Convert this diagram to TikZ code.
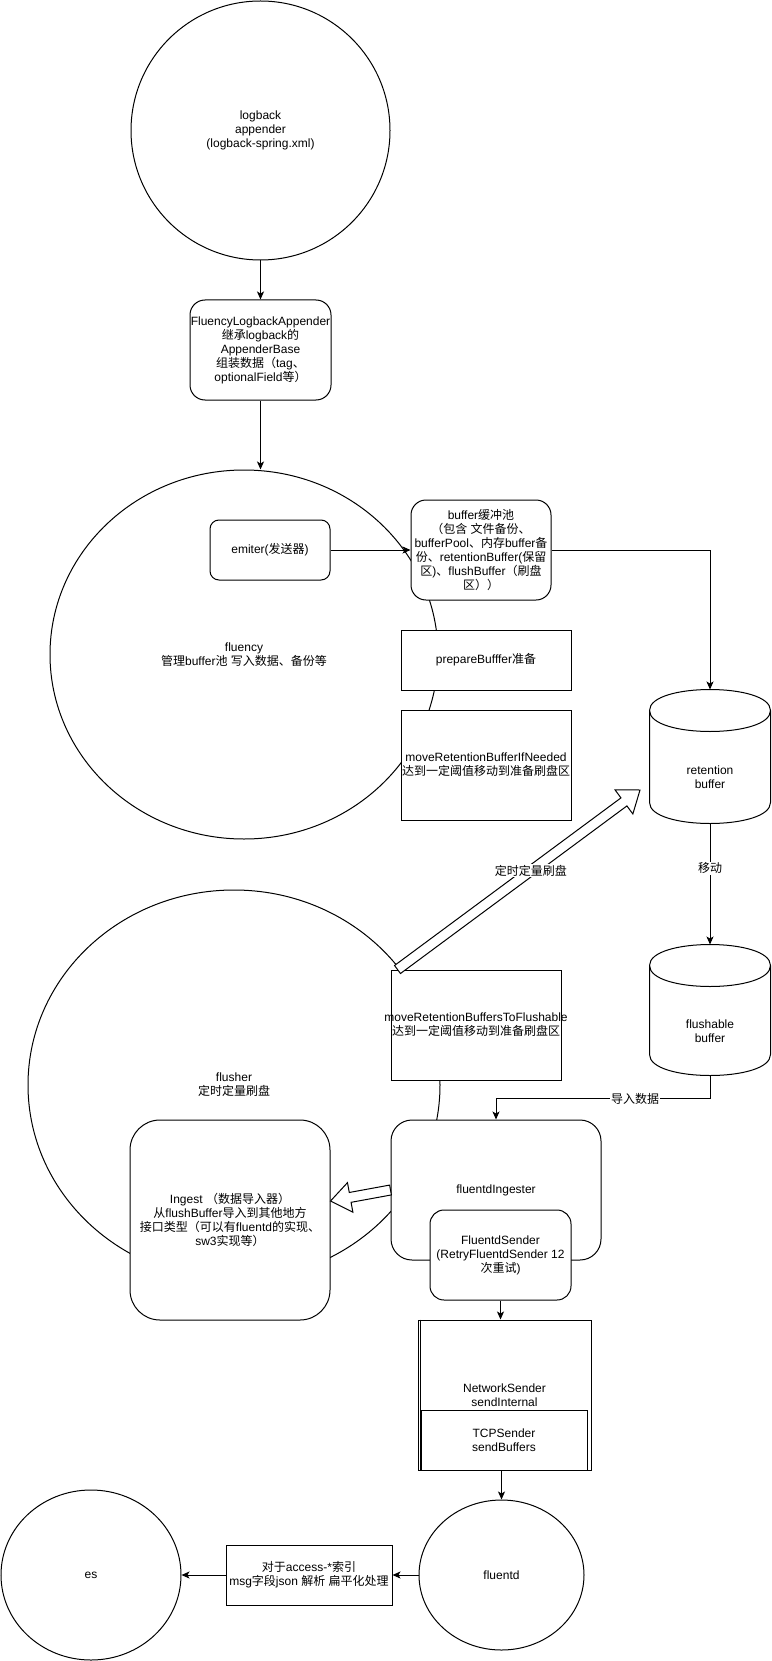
\documentclass[tikz,border=0pt]{standalone}
\usepackage{fontspec}
\setmainfont{Liberation Sans}
\newfontfamily\enfont{Liberation Sans}
\newfontfamily\zhfont{Noto Sans CJK SC}
% switch to the CJK font for Chinese characters
\XeTeXinterchartokenstate=1
\newXeTeXintercharclass\zhclass
\newcount\zhc
\zhc="3000 \loop \XeTeXcharclass\zhc=\zhclass \advance\zhc by 1 \ifnum\zhc<"3040 \repeat
\zhc="4E00 \loop \XeTeXcharclass\zhc=\zhclass \advance\zhc by 1 \ifnum\zhc<"A000 \repeat
\zhc="FF00 \loop \XeTeXcharclass\zhc=\zhclass \advance\zhc by 1 \ifnum\zhc<"FFF0 \repeat
\XeTeXinterchartoks 0 \zhclass = {\zhfont}
\XeTeXinterchartoks 4095 \zhclass = {\zhfont}
\XeTeXinterchartoks \zhclass 0 = {\enfont}
\XeTeXinterchartoks \zhclass 4095 = {\enfont}
\usetikzlibrary{shapes.geometric,arrows.meta,calc}

\tikzset{
  blk/.style={draw, fill=white, align=center, inner sep=0pt},
  rblk/.style={blk, rounded corners=#1},
  oval/.style={draw, ellipse, align=center, inner sep=0pt},
  cyl/.style={align=center, inner sep=0pt, minimum width=120pt},
  line/.style={-{Stealth[length=8pt, width=7pt, inset=2pt]}},
  lbl/.style={fill=white, inner sep=1pt}
}

% cylinder outline round a named node
\newcommand{\drawcyl}[1]{%
  \draw ([yshift=-21pt]#1.north west) -- ([yshift=21pt]#1.south west)
    .. controls ([yshift=-7pt]#1.south west) and ([yshift=-7pt]#1.south east) .. ([yshift=21pt]#1.south east)
    -- ([yshift=-21pt]#1.north east)
    .. controls ([yshift=7pt]#1.north east) and ([yshift=7pt]#1.north west) .. cycle;
  \draw ([yshift=-21pt]#1.north west) .. controls ([yshift=-49pt]#1.north west) and ([yshift=-49pt]#1.north east) .. ([yshift=-21pt]#1.north east);
}
% hollow (flex) arrow from #1 to #2
\newcommand{\hollowarrow}[2]{%
  \coordinate (ha) at ($(#2)!20pt!(#1)$);
  \draw[fill=white] ($(#1)!5pt!90:(#2)$) -- ($(ha)!5pt!90:(#2)$) -- ($(ha)!15pt!90:(#2)$)
    -- (#2) -- ($(ha)!15pt!-90:(#2)$) -- ($(ha)!5pt!-90:(#2)$) -- ($(#1)!5pt!-90:(#2)$) -- cycle;
}

\begin{document}
\begin{tikzpicture}[x=1pt, y=-1pt, line width=1pt, font=\fontsize{12}{14}\selectfont]
  \useasboundingbox (0,0) rectangle (771,1661);

  % the big circles
  \node[oval, minimum width=259pt, minimum height=259pt] (logback) at (260.5,130.5) {logback\\appender\\(logback-spring.xml)};
  \node[oval, minimum width=388pt, minimum height=369pt] (fluency) at (244,654.5) {fluency\\管理buffer池 写入数据、备份等};
  \node[oval, minimum width=412pt, minimum height=390pt] (flusher) at (234,1085) {flusher\\定时定量刷盘};
  \node[oval, minimum width=165pt, minimum height=150pt] (fluentd) at (501.5,1575) {fluentd};
  \node[oval, minimum width=180pt, minimum height=170pt] (es) at (91,1575) {es};

  % boxes
  \node[rblk=15pt, minimum width=141pt, minimum height=100pt] (appender) at (260.5,350) {FluencyLogbackAppender\\继承logback的\\AppenderBase\\组装数据（tag、\\optionalField等）};
  \node[rblk=9pt, minimum width=120pt, minimum height=60pt] (emiter) at (270,550) {emiter(发送器)};
  \node[rblk=15pt, minimum width=140pt, minimum height=100pt] (pool) at (481,550) {buffer缓冲池\\（包含 文件备份、\\bufferPool、内存buffer备\\份、retentionBuffer(保留\\区)、flushBuffer（刷盘\\区））};
  \node[blk, minimum width=170pt, minimum height=60pt] (prepare) at (486,660) {prepareBufffer准备};
  \node[blk, minimum width=170pt, minimum height=110pt] (moveif) at (486,765) {moveRetentionBufferIfNeeded\\达到一定阈值移动到准备刷盘区};
  \node[blk, minimum width=170pt, minimum height=110pt] (moveflush) at (476,1025) {\makebox[168pt]{moveRetentionBuffersToFlushable}\\达到一定阈值移动到准备刷盘区};
  \node[rblk=21pt, minimum width=210pt, minimum height=140pt] (ingester) at (496,1190) {fluentdIngester};
  \node[rblk=30pt, minimum width=200pt, minimum height=200pt] (ingest) at (230,1220) {Ingest （数据导入器）\\从flushBuffer导入到其他地方\\接口类型（可以有fluentd的实现、\\sw3实现等）};
  \node[rblk=14pt, minimum width=141pt, minimum height=90pt] (sender) at (500.5,1255) {FluentdSender\\(RetryFluentdSender 12\\次重试)};
  \node[blk, minimum width=173pt, minimum height=150pt] (netsend) at (504.5,1395) {NetworkSender\\sendInternal};
  \draw ([xshift=3pt]netsend.north west) -- ([xshift=3pt]netsend.south west);
  \node[blk, minimum width=166pt, minimum height=60pt] (tcpsend) at (504,1440) {TCPSender\\sendBuffers};
  \node[blk, minimum width=166pt, minimum height=60pt] (jsonfix) at (309,1575) {对于access-*索引\\msg字段json 解析 扁平化处理};

  % buffers
  \node[cyl, minimum height=133pt, label={[align=center, yshift=-21pt]center:{retention\\buffer}}] (retbuf) at (710,756.5) {};
  \node[cyl, minimum height=130pt, label={[align=center, yshift=-21pt]center:{flushable\\buffer}}] (flushbuf) at (710,1010) {};
  \drawcyl{retbuf}
  \drawcyl{flushbuf}

  % connectors
  \draw[line] (logback) -- (appender);
  \draw[line] (appender.south) -- (appender.south |- fluency.north);
  \draw[line] (emiter) -- (pool);
  \draw[line] (pool.east) -| (retbuf.north);
  \draw[line] (retbuf.south) -- node[lbl, pos=0.37] {移动} (flushbuf.north);
  \draw[line] (flushbuf.south) -- ++(0,23) -| node[lbl, pos=0.175] {导入数据} (ingester.north);
  \draw[line] (sender.south) -- (sender.south |- netsend.north);
  \draw[line] (fluentd.north |- netsend.south) -- (fluentd.north);
  \draw[line] (fluentd) -- (jsonfix);
  \draw[line] (jsonfix) -- (es);

  % hollow arrows
  \coordinate (fdtail) at ([xshift=7pt]moveflush.north west);
  \coordinate (fdtip) at (640,790);
  \hollowarrow{fdtail}{fdtip}
  \node[lbl] (fdlabel) at ($(fdtail)!0.55!(fdtip)$) {定时定量刷盘};
  \coordinate (ingtip) at ([yshift=19pt]ingest.east);
  \hollowarrow{ingester.west}{ingtip}
\end{tikzpicture}
\end{document}
